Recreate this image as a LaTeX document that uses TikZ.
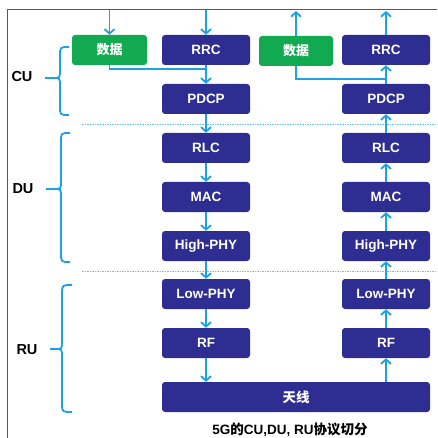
\documentclass[tikz,border=0pt]{standalone}
\usepackage{fontspec}
\setmainfont{Liberation Sans}
\newfontfamily\cjk{Noto Sans CJK SC}
\usetikzlibrary{arrows.meta,calc}
\definecolor{navy}{RGB}{46,46,146}
\definecolor{grn}{RGB}{18,170,80}
\definecolor{cyanb}{RGB}{27,162,226}
\definecolor{dashc}{RGB}{110,195,230}
\definecolor{framec}{RGB}{90,90,90}
\tikzset{
  layer/.style={rectangle, rounded corners=3pt, fill=navy, text=white,
    minimum width=88pt, minimum height=30pt, inner sep=0pt,
    font=\fontsize{13.5}{15}\selectfont\bfseries},
  datab/.style={rectangle, rounded corners=3pt, fill=grn, text=white,
    minimum width=75pt, minimum height=30pt, inner sep=0pt,
    font=\fontsize{13}{15}\selectfont\cjk\bfseries},
  link/.style={draw=cyanb, line width=1.8pt},
  arr/.style={link, -{Straight Barb[length=4.5pt,width=10pt,line width=1.8pt]}},
  lab/.style={font=\fontsize{14.5}{16}\selectfont\bfseries, text=black},
  brc/.style={draw=cyanb, line width=1.8pt},
  sep/.style={draw=dashc, line width=0.9pt, dash pattern=on 1.5pt off 1pt}
}
\begin{document}
\begin{tikzpicture}[x=1pt,y=-1pt]
\useasboundingbox (0,0) rectangle (437,438);
% frame
\draw[framec, line width=1pt] (7,438) -- (7,10) -- (437,10);
% separators
\draw[sep] (82,124) -- (437,124);
\draw[sep] (82,271) -- (437,271);
% left column
\node[datab] (gL) at (109.5,50) {数据};
\node[layer] (rrcL) at (206,50) {RRC};
\node[layer] (pdcpL) at (206,99) {PDCP};
\node[layer] (rlcL) at (206,148) {RLC};
\node[layer] (macL) at (206,197) {MAC};
\node[layer] (hpL) at (206,246) {High-PHY};
\node[layer] (lpL) at (206,294) {Low-PHY};
\node[layer] (rfL) at (206,343) {RF};
% right column
\node[datab, minimum width=74pt] (gR) at (296,51) {数据};
\node[layer] (rrcR) at (386,50) {RRC};
\node[layer] (pdcpR) at (386,99) {PDCP};
\node[layer] (rlcR) at (386,148) {RLC};
\node[layer] (macR) at (386,197) {MAC};
\node[layer] (hpR) at (386,246) {High-PHY};
\node[layer] (lpR) at (386,294) {Low-PHY};
\node[layer] (rfR) at (386,343) {RF};
% antenna
\node[layer, minimum width=268pt, font=\fontsize{13.5}{15}\selectfont\cjk\bfseries] (ant) at (296,397) {天线};
% caption
\node[font=\fontsize{13.5}{15}\selectfont\bfseries] (cap) at (290,430) {5G{\cjk\bfseries 的}CU,DU, RU{\cjk 协议切分}};
% labels
\node[lab] (cu) at (22,77) {CU};
\node[lab] (du) at (23,189) {DU};
\node[lab] (ru) at (27,350) {RU};
% coordinates
\coordinate (tgL) at (gL.north |- 0,10);
\coordinate (trL) at (rrcL.north |- 0,10);
\coordinate (tgR) at (gR.north |- 0,11);
\coordinate (trR) at (rrcR.north |- 0,11);
\coordinate (jL) at (rrcL.south |- 0,69);
\coordinate (jR) at (rrcR.south |- 0,79);
% left arrows (down)
\draw[arr] (tgL) -- (gL.north);
\draw[arr] (trL) -- (rrcL.north);
\draw[link] (gL.south) |- (jL);
\draw[arr] (rrcL.south) -- (pdcpL.north);
\draw[arr] (pdcpL.south) -- (rlcL.north);
\draw[arr] (rlcL.south) -- (macL.north);
\draw[arr] (macL.south) -- (hpL.north);
\draw[arr] (hpL.south) -- (lpL.north);
\draw[arr] (lpL.south) -- (rfL.north);
\draw[arr] (rfL.south) -- (rfL.south |- ant.north);
% right arrows (up)
\draw[arr] (rfR.south |- ant.north) -- (rfR.south);
\draw[arr] (rfR.north) -- (lpR.south);
\draw[arr] (lpR.north) -- (hpR.south);
\draw[arr] (hpR.north) -- (macR.south);
\draw[arr] (macR.north) -- (rlcR.south);
\draw[arr] (rlcR.north) -- (pdcpR.south);
\draw[arr] (pdcpR.north) -- (rrcR.south);
\draw[link] (gR.south) |- (jR);
\draw[arr] (rrcR.north) -- (trR);
\draw[arr] (gR.north) -- (tgR);
% braces
\draw[brc] (69,47) .. controls (60,47) .. (60,56) -- (60,70) .. controls (60,78) .. (53,78) -- (45,78);
\draw[brc] (69,115) .. controls (60,115) .. (60,106) -- (60,86) .. controls (60,78) .. (53,78);
\draw[brc] (70,133) .. controls (61,133) .. (61,142) -- (61,181) .. controls (61,189) .. (54,189) -- (46,189);
\draw[brc] (70,262) .. controls (61,262) .. (61,253) -- (61,197) .. controls (61,189) .. (54,189);
\draw[brc] (72,285) .. controls (62,285) .. (62,294) -- (62,341) .. controls (62,349) .. (55,349) -- (50,349);
\draw[brc] (72,412) .. controls (62,412) .. (62,403) -- (62,357) .. controls (62,349) .. (55,349);
\end{tikzpicture}
\end{document}
